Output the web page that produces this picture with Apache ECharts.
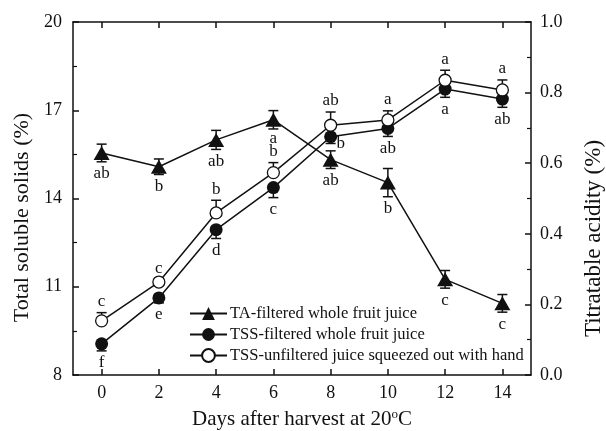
<!DOCTYPE html>
<html><head><meta charset="utf-8">
<script src="https://cdn.jsdelivr.net/npm/echarts@6/dist/echarts.min.js"></script>
<style>html,body{margin:0;padding:0;background:#fff}#c{width:606px;height:431px}</style>
</head><body><div id="c"></div>
<script>
// ---- data ----
const days = [0, 2, 4, 6, 8, 10, 12, 14];
const dayTicks = [0, 2, 4, 6, 8, 10, 12, 14];
const taValues = [0.629, 0.590, 0.666, 0.723, 0.610, 0.545, 0.271, 0.203];
const taErr = [0.025, 0.022, 0.027, 0.026, 0.025, 0.040, 0.025, 0.025];
const taLetters = ['ab', 'b', 'ab', 'a', 'ab', 'b', 'c', 'c'];
const tssFiltered = [9.06, 10.62, 12.94, 14.37, 16.10, 16.38, 17.72, 17.38];
const tssFilteredErr = [0.24, 0.17, 0.30, 0.34, 0.23, 0.27, 0.28, 0.28];
const tssFilteredLetters = ['f', 'e', 'd', 'c', 'b', 'ab', 'a', 'ab'];
const tssUnfiltered = [9.84, 11.16, 13.51, 14.88, 16.49, 16.67, 18.02, 17.69];
const tssUnfilteredErr = [0.28, 0.10, 0.43, 0.34, 0.45, 0.31, 0.34, 0.34];
const tssUnfilteredLetters = ['c', 'c', 'b', 'b', 'ab', 'a', 'a', 'a'];
const seriesNames = ['TA-filtered whole fruit juice', 'TSS-filtered whole fruit juice', 'TSS-unfiltered juice squeezed out with hand'];

// ---- layout / style ----
const FONT = '"Liberation Serif", "Times New Roman", serif';
const INK = '#111';
const labelShift = { filtered: { 4: [10, -12] }, ta: { 3: [0, -2] } };

function errSeries(key, values, errs, letters, yIdx, dir) {
  return {
    type: 'custom', xAxisIndex: 0, yAxisIndex: yIdx, z: 1, silent: true,
    data: days.map((d, i) => [d, values[i], errs[i], i]),
    renderItem(params, api) {
      const x = api.value(0), y = api.value(1), e = api.value(2), i = api.value(3);
      const c = api.coord([x, y]);
      const hi = api.coord([x, y + e]);
      const lo = api.coord([x, y - e]);
      const st = { stroke: INK, lineWidth: 1.5 };
      const kids = [];
      const cw = 5;
      if (dir !== 'down') {
        kids.push({ type: 'line', shape: { x1: c[0], y1: c[1], x2: hi[0], y2: hi[1] }, style: st });
        kids.push({ type: 'line', shape: { x1: hi[0] - cw, y1: hi[1], x2: hi[0] + cw, y2: hi[1] }, style: st });
      }
      if (dir !== 'up') {
        kids.push({ type: 'line', shape: { x1: c[0], y1: c[1], x2: lo[0], y2: lo[1] }, style: st });
        kids.push({ type: 'line', shape: { x1: lo[0] - cw, y1: lo[1], x2: lo[0] + cw, y2: lo[1] }, style: st });
      }
      let lx = c[0], ly = dir === 'up' ? hi[1] - 11 : lo[1] + 12;
      const sh = labelShift[key] && labelShift[key][i];
      if (sh) { lx += sh[0]; ly += sh[1]; }
      kids.push({ type: 'text', style: { x: lx, y: ly, text: letters[i], fill: INK, font: '17px ' + FONT, align: 'center', verticalAlign: 'middle' } });
      return { type: 'group', children: kids };
    }
  };
}

const chart = echarts.init(document.getElementById('c'), null, { renderer: 'canvas' });
const axisLineStyle = { color: INK, width: 1.5 };
chart.setOption({
  animation: false,
  backgroundColor: '#fff',
  textStyle: { fontFamily: FONT, color: INK },
  grid: { left: 73, right: 75, top: 22, bottom: 56, containLabel: false, outerBoundsMode: 'none' },
  legend: {
    left: 189, top: 305, orient: 'vertical', padding: 0,
    itemWidth: 37, itemHeight: 16, itemGap: 4,
    textStyle: { fontSize: 16.5, fontFamily: FONT, color: INK, padding: [0, 0, 0, -2] },
    data: seriesNames
  },
  xAxis: [{
    type: 'value', min: -1, max: 15, position: 'bottom',
    axisLine: { onZero: false, lineStyle: axisLineStyle },
    axisTick: { inside: true, length: 6, lineStyle: { color: INK, width: 1.5 }, customValues: dayTicks },
    axisLabel: { customValues: dayTicks, margin: 9, fontSize: 18, fontFamily: FONT, color: INK },
    splitLine: { show: false },
    name: 'Days after harvest at 20{sup|o}C', nameLocation: 'middle', nameGap: 33,
    nameTextStyle: { fontSize: 21, fontFamily: FONT, color: INK,
      rich: { sup: { fontSize: 13, fontFamily: FONT, color: INK, padding: [0, 0, 9, 0], verticalAlign: 'bottom' } } }
  }, {
    type: 'value', min: -1, max: 15, position: 'top',
    axisLine: { onZero: false, lineStyle: axisLineStyle },
    axisTick: { inside: true, length: 6, lineStyle: { color: INK, width: 1.5 }, customValues: dayTicks },
    axisLabel: { show: false },
    splitLine: { show: false }
  }],
  yAxis: [{
    type: 'value', min: 8, max: 20, interval: 3, position: 'left',
    axisLine: { show: true, onZero: false, lineStyle: axisLineStyle },
    axisTick: { show: true, inside: true, length: 6, lineStyle: { color: INK, width: 1.5 } },
    minorTick: { show: true, splitNumber: 2, length: 4, lineStyle: { color: INK, width: 1.2 } },
    axisLabel: { margin: 11, fontSize: 18, fontFamily: FONT, color: INK },
    splitLine: { show: false },
    name: 'Total soluble solids (%)', nameLocation: 'middle', nameGap: 38, nameRotate: 90,
    nameTextStyle: { fontSize: 22, fontFamily: FONT, color: INK, padding: [0, 38, 0, 0] }
  }, {
    type: 'value', min: 0, max: 1, interval: 0.2, position: 'right',
    axisLine: { show: true, onZero: false, lineStyle: axisLineStyle },
    axisTick: { show: true, inside: true, length: 6, lineStyle: { color: INK, width: 1.5 } },
    minorTick: { show: true, splitNumber: 2, length: 4, lineStyle: { color: INK, width: 1.2 } },
    axisLabel: { margin: 9, fontSize: 18, fontFamily: FONT, color: INK, formatter: v => v.toFixed(1) },
    splitLine: { show: false },
    name: 'Titratable acidity (%)', nameLocation: 'middle', nameGap: 51, nameRotate: 90,
    nameTextStyle: { fontSize: 23, fontFamily: FONT, color: INK, padding: [0, 80, 0, 0] }
  }],
  series: [
    errSeries('ta', taValues, taErr, taLetters, 1, 'both'),
    errSeries('filtered', tssFiltered, tssFilteredErr, tssFilteredLetters, 0, 'down'),
    errSeries('unfiltered', tssUnfiltered, tssUnfilteredErr, tssUnfilteredLetters, 0, 'up'),
    {
      name: seriesNames[0], type: 'line', yAxisIndex: 1, z: 3,
      data: days.map((d, i) => [d, taValues[i]]),
      symbol: 'triangle', symbolSize: [16, 14],
      lineStyle: { color: INK, width: 1.5 },
      itemStyle: { color: INK }
    },
    {
      name: seriesNames[1], type: 'line', yAxisIndex: 0, z: 3,
      data: days.map((d, i) => [d, tssFiltered[i]]),
      symbol: 'circle', symbolSize: 13,
      lineStyle: { color: INK, width: 1.5 },
      itemStyle: { color: INK }
    },
    {
      name: seriesNames[2], type: 'line', yAxisIndex: 0, z: 4,
      data: days.map((d, i) => [d, tssUnfiltered[i]]),
      symbol: 'circle', symbolSize: 12,
      lineStyle: { color: INK, width: 1.5 },
      itemStyle: { color: '#fff', borderColor: INK, borderWidth: 1.3 }
    }
  ]
});
</script>
</body></html>
